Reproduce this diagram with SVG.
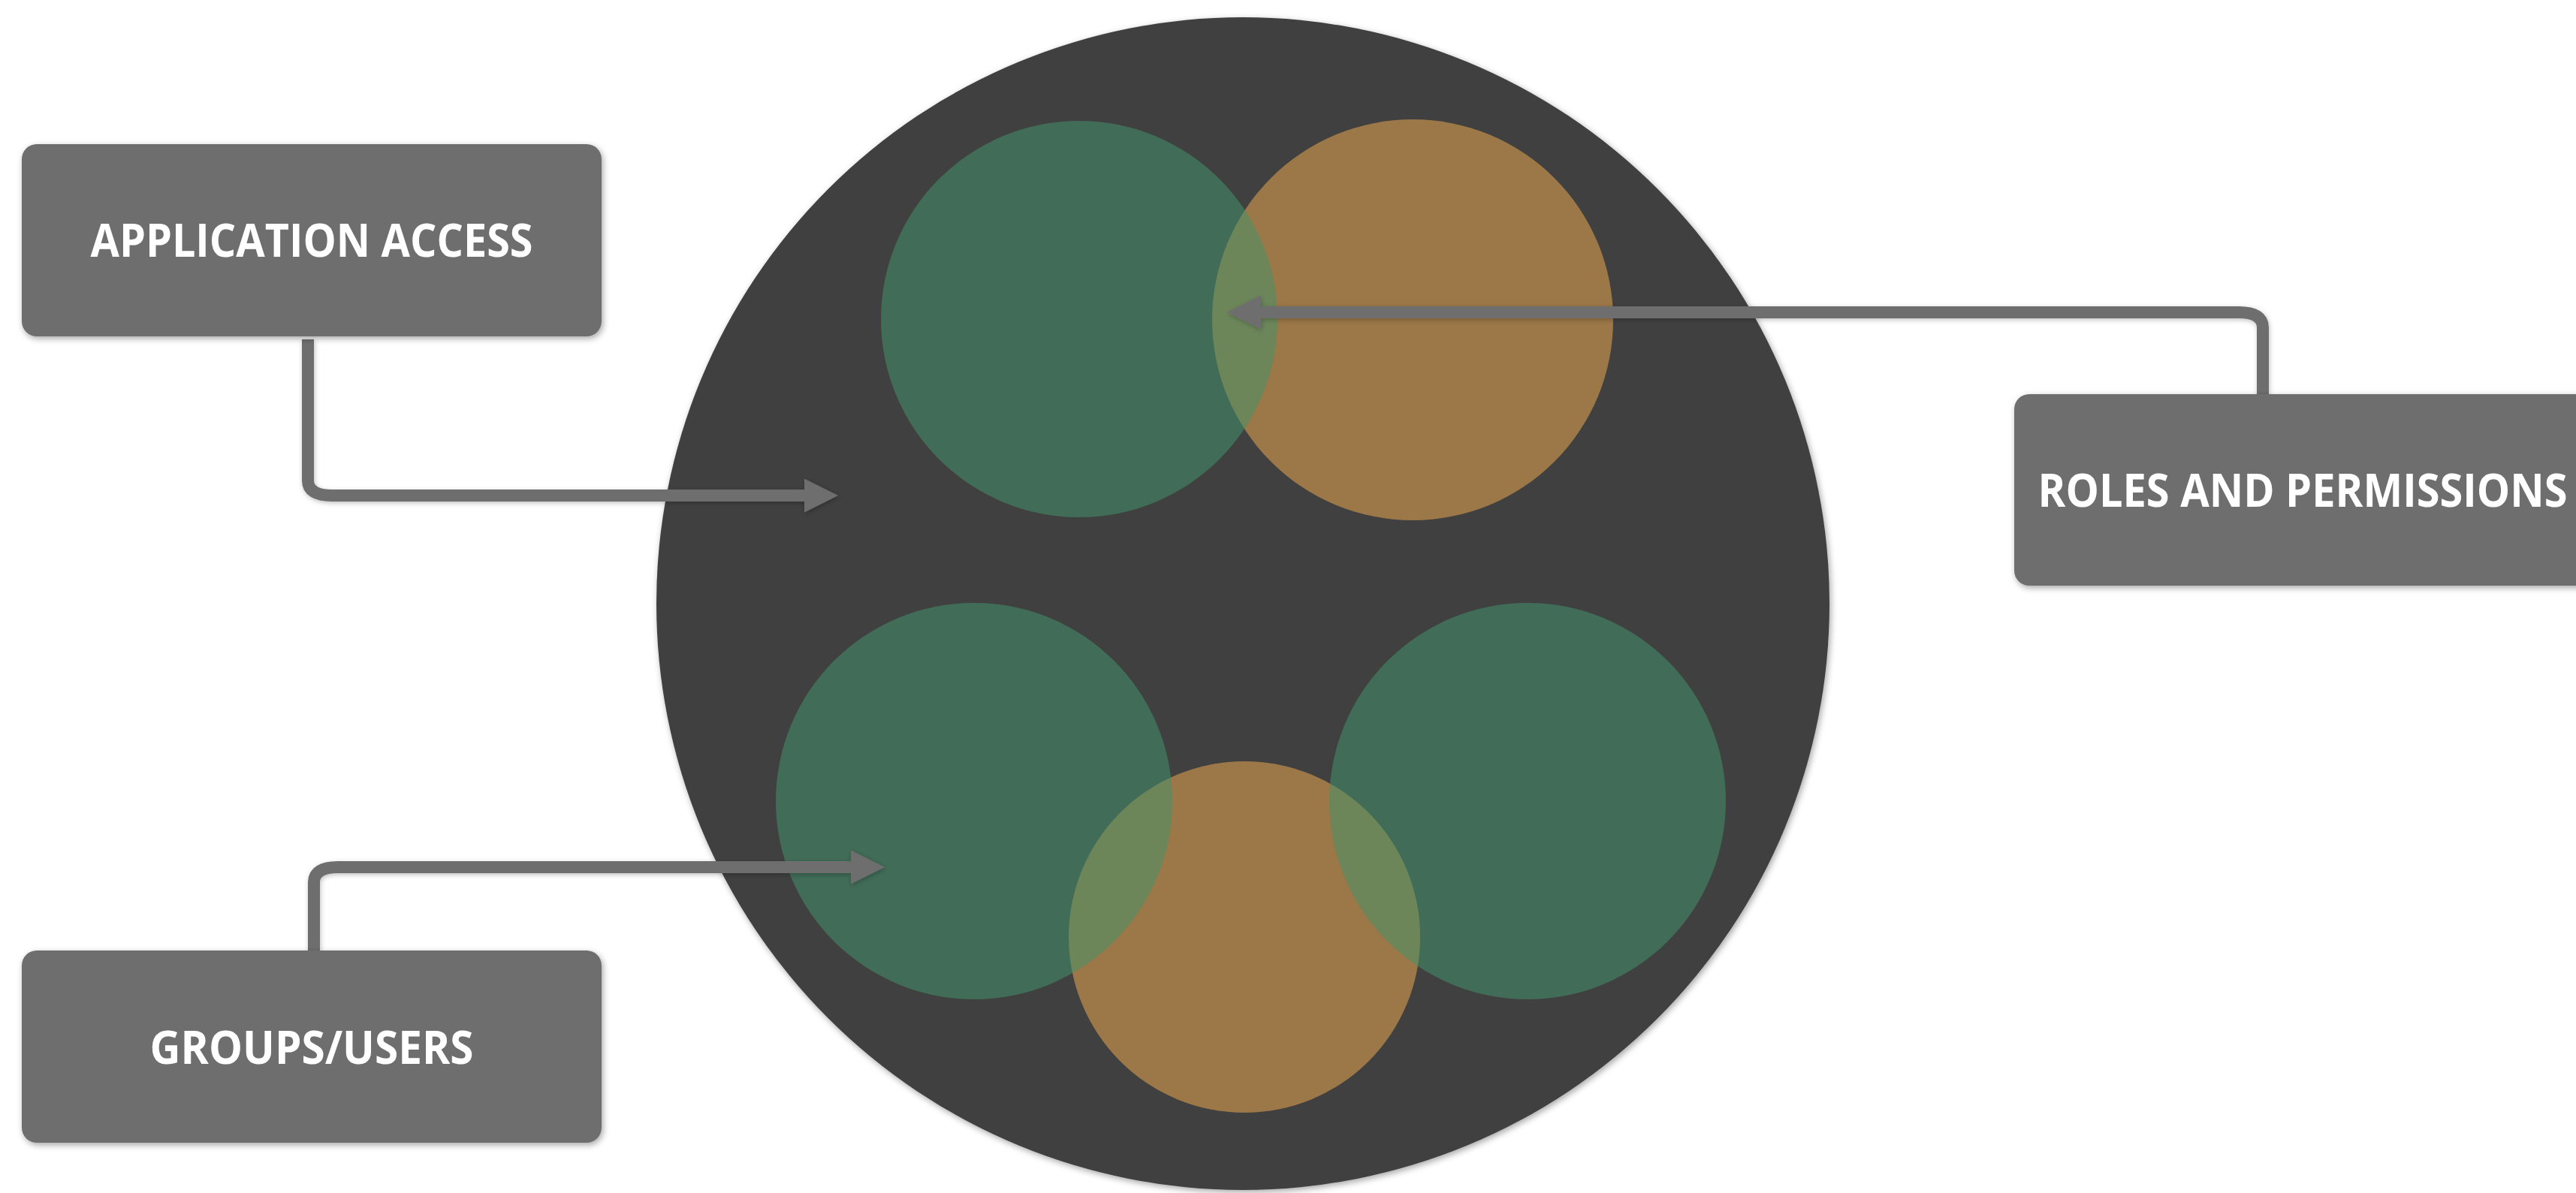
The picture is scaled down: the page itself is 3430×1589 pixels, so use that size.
<svg xmlns="http://www.w3.org/2000/svg" width="3430" height="1589" viewBox="0 0 3430 1589">
  <style>
    .box { fill: #6e6e6e; }
    .label { fill: #ffffff; font-family: "Open Sans", "Liberation Sans", sans-serif; font-weight: 700; font-size: 60px; text-anchor: middle; }
    .conn { fill: none; stroke: #6e6e6e; stroke-width: 16; stroke-linejoin: round; }
    .green { fill: #43946b; fill-opacity: 0.53; }
    .orange { fill: #9c7747; }
  </style>
  <defs>
    <filter id="shadow" x="-10%" y="-10%" width="120%" height="120%">
      <feDropShadow dx="2" dy="3" stdDeviation="4" flood-color="#000000" flood-opacity="0.35"/>
    </filter>
    <filter id="lshadow" x="-10%" y="-50%" width="120%" height="200%">
      <feDropShadow dx="1" dy="2" stdDeviation="3" flood-color="#000000" flood-opacity="0.25"/>
    </filter>
    <marker id="arrow" viewBox="0 0 45 45" refX="0" refY="22.5" markerWidth="45" markerHeight="45" markerUnits="userSpaceOnUse" orient="auto">
      <path d="M0,0 L45,22.5 L0,45 Z" fill="#6e6e6e"/>
    </marker>
  </defs>
  <rect width="3430" height="1589" fill="#ffffff"/>

  <g id="scope">
    <circle cx="1655" cy="804" r="781" fill="#414141" filter="url(#shadow)"/>
    <circle class="orange" cx="1881" cy="426" r="267"/>
    <circle class="orange" cx="1657" cy="1248" r="234"/>
    <circle class="green" cx="1437" cy="425" r="264"/>
    <circle class="green" cx="1297" cy="1067" r="264"/>
    <circle class="green" cx="2034" cy="1067" r="264"/>
  </g>

  <g id="connectors" filter="url(#lshadow)">
    <path class="conn" d="M410,452 L410,640 Q410,660 442,660 L1071,660" marker-end="url(#arrow)"/>
    <path class="conn" d="M3013,528 L3013,436 Q3013,416 2981,416 L1679,416" marker-end="url(#arrow)"/>
    <path class="conn" d="M418,1266 L418,1175 Q418,1155 450,1155 L1133,1155" marker-end="url(#arrow)"/>
  </g>

  <g id="application-access">
    <rect class="box" x="29" y="192" width="772" height="256" rx="20" ry="20" filter="url(#shadow)"/>
    <text class="label" x="415" y="342" textLength="589" lengthAdjust="spacingAndGlyphs">APPLICATION ACCESS</text>
  </g>

  <g id="roles-and-permissions">
    <rect class="box" x="2682" y="525" width="772" height="255" rx="20" ry="20" filter="url(#shadow)"/>
    <text class="label" x="3066" y="675" textLength="705" lengthAdjust="spacingAndGlyphs">ROLES AND PERMISSIONS</text>
  </g>

  <g id="groups-users">
    <rect class="box" x="29" y="1266" width="772" height="256" rx="20" ry="20" filter="url(#shadow)"/>
    <text class="label" x="415" y="1417" textLength="431" lengthAdjust="spacingAndGlyphs">GROUPS/USERS</text>
  </g>
</svg>
